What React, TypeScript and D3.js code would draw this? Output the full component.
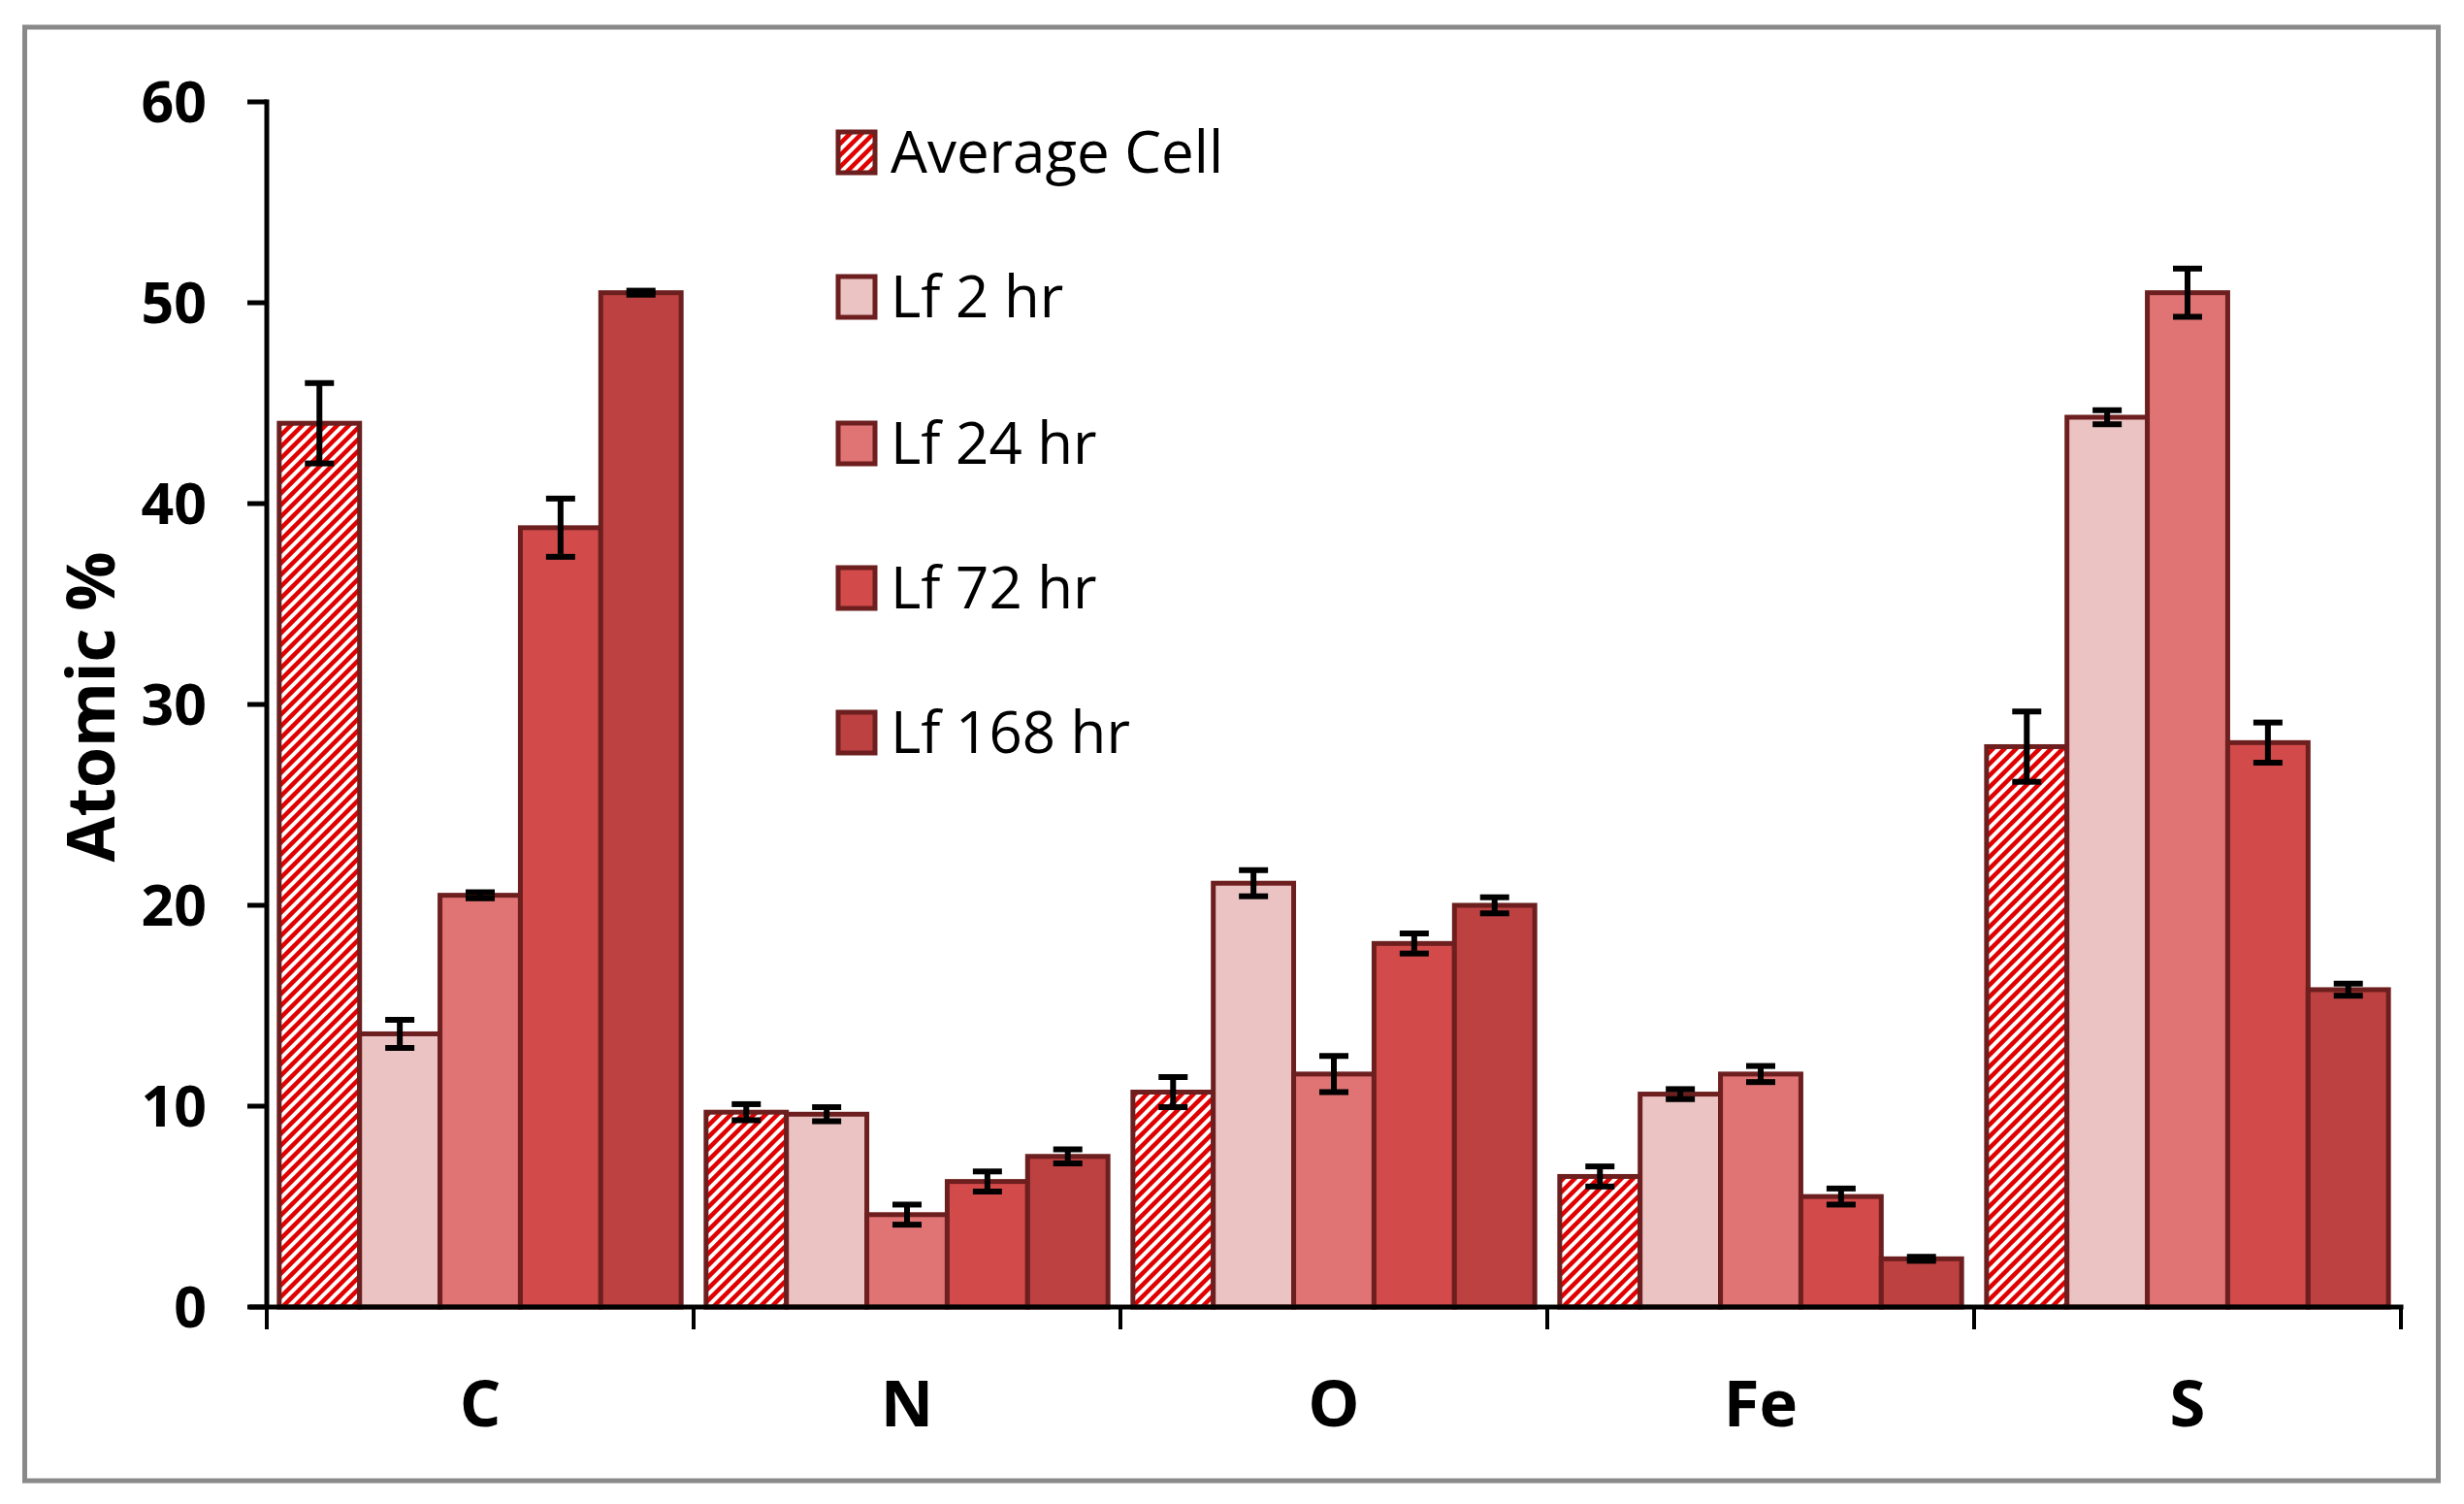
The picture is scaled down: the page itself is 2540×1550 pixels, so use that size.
import { useEffect, useRef } from "react";
import * as d3 from "d3";

const categories = ["C", "N", "O", "Fe", "S"];
const seriesNames = ["Average Cell", "Lf 2 hr", "Lf 24 hr", "Lf 72 hr", "Lf 168 hr"];

// mean atomic % per element, one array per series
const avgCell = [44.0, 9.7, 10.7, 6.5, 27.9];
const lf2 = [13.6, 9.6, 21.1, 10.6, 44.3];
const lf24 = [20.5, 4.6, 11.6, 11.6, 50.5];
const lf72 = [38.8, 6.25, 18.1, 5.5, 28.1];
const lf168 = [50.5, 7.5, 20.0, 2.4, 15.8];

// +/- error
const avgCellErr = [2.0, 0.4, 0.75, 0.5, 1.75];
const lf2Err = [0.7, 0.35, 0.65, 0.25, 0.35];
const lf24Err = [0.15, 0.5, 0.9, 0.4, 1.2];
const lf72Err = [1.45, 0.5, 0.5, 0.4, 1.0];
const lf168Err = [0.1, 0.35, 0.4, 0.1, 0.3];

const yTicks = [0, 10, 20, 30, 40, 50, 60];

const seriesValues = [avgCell, lf2, lf24, lf72, lf168];
const seriesErrors = [avgCellErr, lf2Err, lf24Err, lf72Err, lf168Err];
const fills = ["url(#hatch)", "#ecc3c3", "#e07373", "#d24b4a", "#bd4141"];

const W = 2540;
const H = 1550;
const FONT = "'Open Sans', 'DejaVu Sans', sans-serif";

const App = () => {
  const svgRef = useRef<SVGSVGElement | null>(null);

  useEffect(() => {
    if (!svgRef.current) return;
    const svg = d3.select(svgRef.current);
    svg.selectAll("*").remove();

    const plot = { left: 275, right: 2475, top: 105, bottom: 1347 };

    // hatch pattern for "Average Cell"
    const defs = svg.append("defs");
    const pat = defs
      .append("pattern")
      .attr("id", "hatch")
      .attr("patternUnits", "userSpaceOnUse")
      .attr("width", 12)
      .attr("height", 12);
    pat.append("rect").attr("width", 12).attr("height", 12).attr("fill", "#e00000");
    pat
      .append("path")
      .attr("d", "M-3,3 L3,-3 M0,12 L12,0 M9,15 L15,9")
      .attr("stroke", "#ffffff")
      .attr("stroke-width", 4);

    svg.append("rect").attr("width", W).attr("height", H).attr("fill", "#ffffff");

    // outer frame
    svg
      .append("rect")
      .attr("x", 25.5)
      .attr("y", 28)
      .attr("width", 2488)
      .attr("height", 1498)
      .attr("fill", "none")
      .attr("stroke", "#898989")
      .attr("stroke-width", 5);

    const x0 = d3
      .scaleBand<string>()
      .domain(categories)
      .range([plot.left, plot.right])
      .padding(0);

    const x1 = d3
      .scaleBand<string>()
      .domain(seriesNames)
      .range([0, x0.bandwidth()])
      .paddingInner(0)
      .paddingOuter(0.155);

    const y = d3.scaleLinear().domain([0, 60]).range([plot.bottom, plot.top]);

    // bars
    seriesNames.forEach((name, si) => {
      const g = svg.append("g");
      g.selectAll("rect")
        .data(categories)
        .join("rect")
        .attr("x", (c) => (x0(c) as number) + (x1(name) as number))
        .attr("y", (_, i) => y(seriesValues[si][i]))
        .attr("width", x1.bandwidth())
        .attr("height", (_, i) => y(0) - y(seriesValues[si][i]))
        .attr("fill", fills[si])
        .attr("stroke", "#6d1f1f")
        .attr("stroke-width", 5);
    });

    // error bars
    const capW = 30;
    seriesNames.forEach((name, si) => {
      categories.forEach((c, i) => {
        const cx = (x0(c) as number) + (x1(name) as number) + x1.bandwidth() / 2;
        const v = seriesValues[si][i];
        const e = seriesErrors[si][i];
        const yt = y(v + e);
        const yb = y(v - e);
        const eg = svg.append("g").attr("stroke", "#000").attr("stroke-width", 6);
        eg.append("line").attr("x1", cx).attr("x2", cx).attr("y1", yt).attr("y2", yb);
        eg.append("line")
          .attr("x1", cx - capW / 2)
          .attr("x2", cx + capW / 2)
          .attr("y1", yt)
          .attr("y2", yt);
        eg.append("line")
          .attr("x1", cx - capW / 2)
          .attr("x2", cx + capW / 2)
          .attr("y1", yb)
          .attr("y2", yb);
      });
    });

    // y axis
    const axis = svg.append("g").attr("stroke", "#000").attr("stroke-width", 5);
    axis
      .append("line")
      .attr("x1", plot.left)
      .attr("x2", plot.left)
      .attr("y1", plot.top - 2.5)
      .attr("y2", plot.bottom);
    axis
      .selectAll("line.yt")
      .data(yTicks)
      .join("line")
      .attr("class", "yt")
      .attr("x1", plot.left - 20)
      .attr("x2", plot.left)
      .attr("y1", (d) => y(d))
      .attr("y2", (d) => y(d));

    svg
      .append("g")
      .selectAll("text")
      .data(yTicks)
      .join("text")
      .attr("x", 213)
      .attr("y", (d) => y(d))
      .attr("dy", "0.36em")
      .attr("text-anchor", "end")
      .attr("font-family", FONT)
      .attr("font-weight", "bold")
      .attr("font-size", 59)
      .attr("fill", "#000")
      .text((d) => d);

    // x axis
    axis
      .append("line")
      .attr("x1", plot.left - 18)
      .attr("x2", plot.right + 2.5)
      .attr("y1", plot.bottom)
      .attr("y2", plot.bottom);
    const bounds = [...categories.map((c) => x0(c) as number), plot.right];
    axis
      .selectAll("line.xt")
      .data(bounds)
      .join("line")
      .attr("class", "xt")
      .attr("stroke-width", 4)
      .attr("x1", (d) => d)
      .attr("x2", (d) => d)
      .attr("y1", plot.bottom)
      .attr("y2", plot.bottom + 23);

    svg
      .append("g")
      .selectAll("text")
      .data(categories)
      .join("text")
      .attr("x", (c) => (x0(c) as number) + x0.bandwidth() / 2)
      .attr("y", 1470)
      .attr("text-anchor", "middle")
      .attr("font-family", FONT)
      .attr("font-weight", "bold")
      .attr("font-size", 67)
      .attr("fill", "#000")
      .text((c) => c);

    // y title
    svg
      .append("text")
      .attr("transform", `translate(118, ${(572 + 885) / 2}) rotate(-90)`)
      .attr("text-anchor", "middle")
      .attr("font-family", FONT)
      .attr("font-weight", "bold")
      .attr("font-size", 68)
      .attr("fill", "#000")
      .text("Atomic %");

    // legend
    const legendRows = [157, 306, 457, 606, 755];
    const lg = svg.append("g");
    seriesNames.forEach((name, si) => {
      const cy = legendRows[si];
      lg.append("rect")
        .attr("x", 864)
        .attr("y", cy - 21)
        .attr("width", 38)
        .attr("height", 42)
        .attr("fill", fills[si])
        .attr("stroke", "#6d1f1f")
        .attr("stroke-width", 5);
      lg.append("text")
        .attr("x", 918)
        .attr("y", cy + 21)
        .attr("font-family", FONT)
        .attr("font-size", 60)
        .attr("fill", "#000")
        .text(name);
    });
  }, []);

  return (
    <svg
      ref={svgRef}
      width={W}
      height={H}
      viewBox={`0 0 ${W} ${H}`}
      style={{ position: "absolute", left: 0, top: 0, display: "block" }}
    />
  );
};

export default App;
